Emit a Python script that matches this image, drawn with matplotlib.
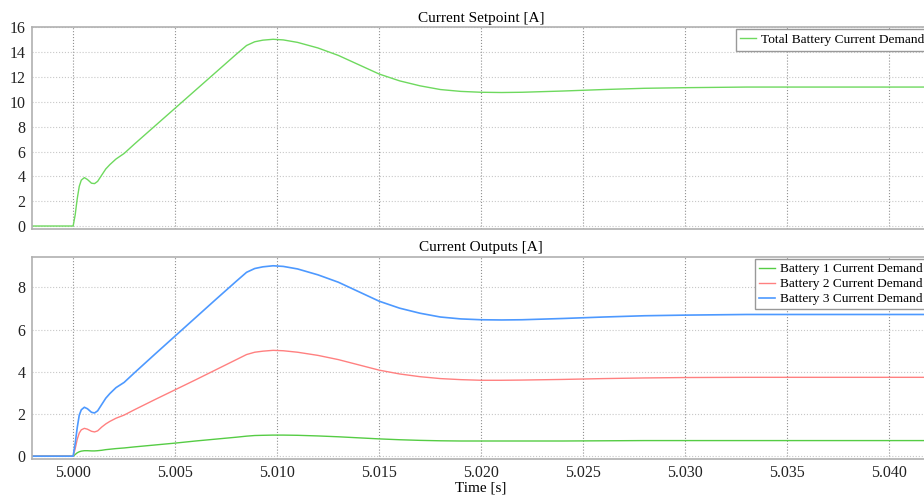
import matplotlib
matplotlib.use("Agg")
import matplotlib.pyplot as plt

plt.rcParams["font.family"] = ["Liberation Serif", "DejaVu Serif"]
plt.rcParams["font.size"] = 11

# time axis [s]
t = [4.998, 5.0, 5.0001, 5.0002, 5.0003, 5.0004, 5.00055, 5.0007, 5.0009,
     5.00105, 5.0012, 5.0014, 5.0016, 5.0018, 5.0021, 5.0025, 5.003, 5.004,
     5.005, 5.006, 5.007, 5.008, 5.0085, 5.0089, 5.0093, 5.0098, 5.0103,
     5.011, 5.012, 5.013, 5.014, 5.015, 5.016, 5.017, 5.018, 5.019, 5.02,
     5.021, 5.022, 5.024, 5.026, 5.028, 5.03, 5.033, 5.036, 5.039, 5.042]

total = [0, 0, 0.9, 2.2, 3.2, 3.7, 3.9, 3.75, 3.45,
         3.42, 3.6, 4.1, 4.6, 4.95, 5.4, 5.85, 6.6, 8.05,
         9.5, 10.95, 12.4, 13.85, 14.55, 14.85, 14.98, 15.05, 15.0,
         14.8, 14.35, 13.75, 13.0, 12.25, 11.7, 11.3, 11.0, 10.85, 10.78,
         10.76, 10.78, 10.88, 11.0, 11.1, 11.15, 11.2, 11.2, 11.2, 11.2]

battery1 = [0, 0, 0.08, 0.16, 0.21, 0.24, 0.26, 0.26, 0.25,
            0.25, 0.26, 0.28, 0.31, 0.33, 0.36, 0.39, 0.44, 0.53,
            0.62, 0.72, 0.81, 0.9, 0.95, 0.98, 0.99, 1.0, 1.0,
            0.99, 0.96, 0.92, 0.87, 0.82, 0.78, 0.75, 0.73, 0.72, 0.72,
            0.72, 0.72, 0.72, 0.73, 0.74, 0.74, 0.74, 0.74, 0.74, 0.74]

battery2 = [0, 0, 0.35, 0.8, 1.1, 1.25, 1.32, 1.28, 1.18,
            1.15, 1.2, 1.38, 1.53, 1.65, 1.8, 1.95, 2.2, 2.68,
            3.15, 3.62, 4.1, 4.58, 4.82, 4.93, 4.98, 5.02, 5.0,
            4.93, 4.78, 4.58, 4.33, 4.08, 3.9, 3.77, 3.68, 3.63, 3.6,
            3.6, 3.61, 3.64, 3.68, 3.71, 3.73, 3.74, 3.74, 3.74, 3.74]

battery3 = [0, 0, 0.6, 1.35, 1.95, 2.2, 2.32, 2.25, 2.08,
            2.05, 2.15, 2.45, 2.75, 2.97, 3.25, 3.5, 3.95, 4.83,
            5.7, 6.57, 7.44, 8.3, 8.72, 8.9, 8.98, 9.03, 9.0,
            8.88, 8.6, 8.25, 7.8, 7.35, 7.02, 6.78, 6.6, 6.51, 6.47,
            6.46, 6.47, 6.53, 6.6, 6.66, 6.69, 6.72, 6.72, 6.72, 6.72]

xticks = [5.000, 5.005, 5.010, 5.015, 5.020, 5.025, 5.030, 5.035, 5.040]

fig = plt.figure(figsize=(9.24, 5), dpi=100)
ax1 = fig.add_axes([0.035, 0.542, 0.9715, 0.403])
ax2 = fig.add_axes([0.035, 0.083, 0.9715, 0.404], sharex=ax1)


def style(ax):
    for side in ["top", "bottom", "left", "right"]:
        ax.spines[side].set_color("#b0b0b0")
        ax.spines[side].set_linewidth(1.2)
    ax.tick_params(length=0, colors="#222222", labelsize=11.5)
    ax.tick_params(axis="y", pad=5)
    ax.tick_params(axis="x", pad=5)
    ax.xaxis.grid(True, linestyle=":", color="#909090", linewidth=0.8)
    ax.yaxis.grid(True, linestyle=":", color="#c8c8c8", linewidth=0.8)
    ax.set_axisbelow(True)


# Current setpoint
ax1.plot(t, total, color="#6ed95e", linewidth=1.0, label="Total Battery Current Demand")
ax1.set_xlim(4.998, 5.042)
ax1.set_ylim(-0.24, 16)
ax1.set_yticks([0, 2, 4, 6, 8, 10, 12, 14, 16])
ax1.set_xticks(xticks)
ax1.tick_params(labelbottom=False)
ax1.set_title("Current Setpoint [A]", fontsize=11, pad=4)
style(ax1)
leg1 = ax1.legend(loc="upper left", bbox_to_anchor=(0.7835, 0.993), fancybox=False,
                  fontsize=9.6, borderaxespad=0, borderpad=0.35, handlelength=1.2,
                  handletextpad=0.35, framealpha=1)
leg1.get_frame().set_edgecolor("#999999")

# Current outputs
ax2.plot(t, battery1, color="#55cc44", linewidth=1.0, label="Battery 1 Current Demand")
ax2.plot(t, battery2, color="#ff8080", linewidth=1.0, label="Battery 2 Current Demand")
ax2.plot(t, battery3, color="#4d99ff", linewidth=1.2, label="Battery 3 Current Demand")
ax2.set_ylim(-0.11, 9.47)
ax2.set_yticks([0, 2, 4, 6, 8])
ax2.set_xticks(xticks)
ax2.set_xticklabels(["%.3f" % x for x in xticks])
ax2.set_title("Current Outputs [A]", fontsize=11, pad=4)
ax2.set_xlabel("Time [s]", labelpad=0)
style(ax2)
leg2 = ax2.legend(loc="upper left", bbox_to_anchor=(0.8055, 0.988), fancybox=False,
                  fontsize=9.6, borderaxespad=0, borderpad=0.3, handlelength=1.2,
                  handletextpad=0.35, labelspacing=0.2, framealpha=1)
leg2.get_frame().set_edgecolor("#999999")

fig.savefig("out.png", dpi=100)
